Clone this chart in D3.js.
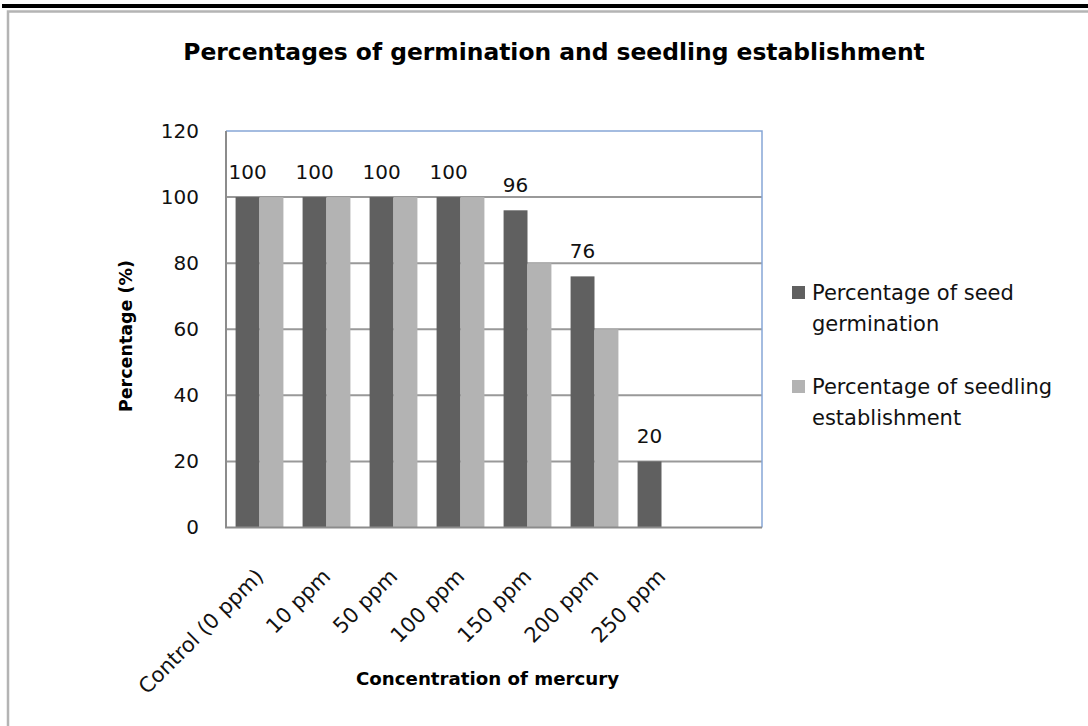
<!DOCTYPE html>
<html>
<head>
<meta charset="utf-8">
<title>Percentages of germination and seedling establishment</title>
<script src="https://d3js.org/d3.v7.min.js"></script>
<style>
    body { margin: 0; background: #fff; }
    svg { display: block; font-family: "DejaVu Sans", sans-serif; }
</style>
</head>
<body>
<svg id="chart" width="1088" height="726"></svg>
<script>
// data
var categories = ["Control (0 ppm)", "10 ppm", "50 ppm", "100 ppm", "150 ppm", "200 ppm", "250 ppm", ""];
var germination = [100, 100, 100, 100, 96, 76, 20, null];
var seedling = [100, 100, 100, 100, 80, 60, 0, null];
var seriesNames = ["Percentage of seed germination", "Percentage of seedling establishment"];
var legendLines = [["Percentage of seed", "germination"], ["Percentage of seedling", "establishment"]];
var yTicks = [0, 20, 40, 60, 80, 100, 120];
var colors = ["#606060", "#b3b3b3"];

var svg = d3.select("#chart");

// frame around the picture
svg.append("rect").attr("x", 2).attr("y", 4).attr("width", 1086).attr("height", 4).attr("fill", "#000");
svg.append("path")
    .attr("d", "M8,726V11.5H1088")
    .attr("fill", "none")
    .attr("stroke", "#b4b4b4")
    .attr("stroke-width", 2.5);

var plotLeft = 226, plotRight = 762, plotTop = 131, plotBottom = 527.5;

var x0 = d3.scaleBand().domain(categories).range([plotLeft, plotRight])
    .paddingInner(0.286).paddingOuter(0.143);
var x1 = d3.scaleBand().domain([0, 1]).range([0, x0.bandwidth()]);
var y = d3.scaleLinear().domain([0, 120]).range([plotBottom, plotTop]);

// gridlines
svg.append("g").selectAll("line")
    .data(yTicks.filter(function(d) { return d > 0 && d < 120; }))
    .enter().append("line")
    .attr("x1", plotLeft).attr("x2", plotRight)
    .attr("y1", function(d) { return y(d); })
    .attr("y2", function(d) { return y(d); })
    .attr("stroke", "#999")
    .attr("stroke-width", 2);

// bars
var rows = categories.map(function(c, i) { return {cat: c, vals: [germination[i], seedling[i]]}; });
var groups = svg.append("g").selectAll("g")
    .data(rows)
    .enter().append("g")
    .attr("transform", function(d) { return "translate(" + x0(d.cat) + ",0)"; });

groups.selectAll("rect")
    .data(function(d) { return d.vals.map(function(v, k) { return {k: k, v: v}; }); })
    .enter().filter(function(d) { return d.v; })
    .append("rect")
    .attr("x", function(d) { return x1(d.k); })
    .attr("width", x1.bandwidth())
    .attr("y", function(d) { return y(d.v); })
    .attr("height", function(d) { return y(0) - y(d.v); })
    .attr("fill", function(d) { return colors[d.k]; });

// data labels on germination series
groups.filter(function(d) { return d.vals[0] != null; })
    .append("text")
    .attr("x", x1(0) + x1.bandwidth() / 2)
    .attr("y", function(d) { return y(d.vals[0]) - 18.5; })
    .attr("text-anchor", "middle")
    .attr("font-size", 20)
    .attr("fill", "#111")
    .text(function(d) { return d.vals[0]; });

// plot border: top/right blue, left/bottom grey
svg.append("path")
    .attr("d", "M" + plotLeft + "," + plotTop + "H" + plotRight + "V" + plotBottom)
    .attr("fill", "none").attr("stroke", "#86a6d6").attr("stroke-width", 1.5);
svg.append("path")
    .attr("d", "M" + plotLeft + "," + plotTop + "V" + plotBottom + "H" + plotRight)
    .attr("fill", "none").attr("stroke", "#8c8c8c").attr("stroke-width", 2);

// y axis
var yAxis = d3.axisLeft(y).tickValues(yTicks).tickSize(0).tickPadding(27);
var gy = svg.append("g").attr("transform", "translate(" + plotLeft + ",0)").call(yAxis);
gy.select(".domain").remove();
gy.selectAll("text").attr("font-size", 20).attr("font-family", "DejaVu Sans").attr("fill", "#111");

// x axis labels, rotated
var xAxis = d3.axisBottom(x0).tickValues(categories.filter(function(c) { return c; })).tickSize(0);
var gx = svg.append("g").attr("transform", "translate(0," + plotBottom + ")").call(xAxis);
gx.select(".domain").remove();
gx.selectAll("text")
    .attr("font-size", 21).attr("font-family", "DejaVu Sans").attr("fill", "#111")
    .attr("text-anchor", "end")
    .attr("y", 0).attr("dy", "0.35em")
    .attr("transform", "translate(0,45) rotate(-45)");

// titles
svg.append("text")
    .attr("x", 554).attr("y", 60)
    .attr("text-anchor", "middle")
    .attr("font-size", 23.4).attr("font-weight", "bold")
    .text("Percentages of germination and seedling establishment");

svg.append("text")
    .attr("x", 487.5).attr("y", 685)
    .attr("text-anchor", "middle")
    .attr("font-size", 18.2).attr("font-weight", "bold")
    .text("Concentration of mercury");

svg.append("text")
    .attr("transform", "translate(132,336) rotate(-90)")
    .attr("text-anchor", "middle")
    .attr("font-size", 17.5).attr("font-weight", "bold")
    .text("Percentage (%)");

// legend
var legend = svg.append("g").selectAll("g")
    .data(seriesNames)
    .enter().append("g")
    .attr("transform", function(d, i) { return "translate(792," + (286 + i * 94) + ")"; });
legend.append("rect")
    .attr("width", 13).attr("height", 13)
    .attr("fill", function(d, i) { return colors[i]; });
legend.each(function(d, i) {
    var t = d3.select(this).append("text")
        .attr("x", 20).attr("y", 14)
        .attr("font-size", 21).attr("fill", "#111");
    legendLines[i].forEach(function(line, j) {
        t.append("tspan").attr("x", 20).attr("dy", j ? 30.5 : 0).text(line);
    });
});
</script>
</body>
</html>
